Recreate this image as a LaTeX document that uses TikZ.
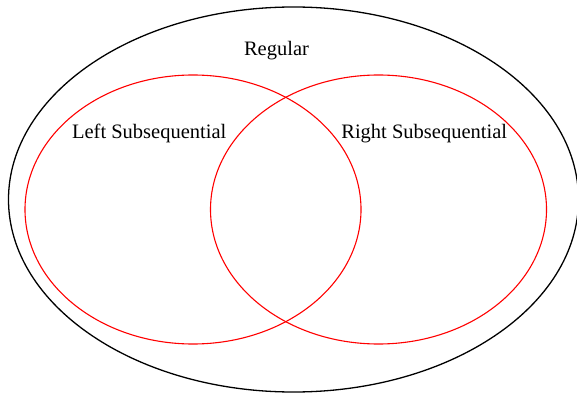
\documentclass[tikz,border=0pt]{standalone}
\usepackage{fontspec}
\setmainfont{Liberation Serif}
\usepackage{tikz}
\usetikzlibrary{shapes.geometric, positioning}

\begin{document}
\begin{tikzpicture}[
    x=1pt, y=-1pt,
    outerset/.style={ellipse, draw=black, line width=1.3pt, minimum width=570pt, minimum height=385pt, inner sep=0pt},
    subset/.style={ellipse, draw=red, line width=1.1pt, minimum width=336pt, minimum height=269pt, inner sep=0pt},
    setlabel/.style={anchor=base, font=\fontsize{20.5}{24}\selectfont, inner sep=0pt},
]
\useasboundingbox (0,0) rectangle (577,395);
\node[outerset] (regular) at (293.5,199.5) {};
\node[subset] (leftsub) at (193,209.5) {};
\node[subset] (rightsub) at (378.5,209.5) {};
\node[setlabel] (reglabel) at (276.5,56) {Regular};
\node[setlabel] (leftlabel) at (149.2,139) {Left Subsequential};
\node[setlabel] (rightlabel) at (424.2,139) {Right Subsequential};
\end{tikzpicture}
\end{document}
